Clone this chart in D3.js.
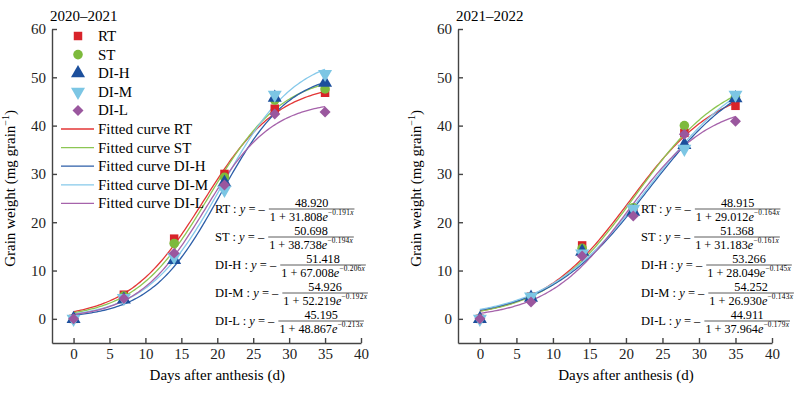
<!DOCTYPE html>
<html>
<head>
<meta charset="utf-8">
<script src="https://cdn.jsdelivr.net/npm/d3@7"></script>
<style>
  body { margin: 0; background: #fff; }
  svg { font-family: "Liberation Serif", "DejaVu Serif", serif; }
  .axis path, .axis line { stroke: #444; stroke-width: 1.4; }
  .axis text { font-size: 15px; fill: #222; font-family: "Liberation Serif", serif; }
</style>
</head>
<body>
<div id="chart"></div>
<script>
// sampling days and treatments
const days = [0, 7, 14, 21, 28, 35];
const treatments = ['RT', 'ST', 'DI-H', 'DI-M', 'DI-L'];
const xTicks = [0, 5, 10, 15, 20, 25, 30, 35, 40];
const yTicks = [0, 10, 20, 30, 40, 50, 60];

// observed grain weight, 2020-2021
const obs2021_RT = [0, 5.0, 16.6, 30.0, 43.5, 46.8];
const obs2021_ST = [0, 4.7, 15.6, 29.3, 45.3, 47.6];
const obs2021_DIH = [0, 4.0, 12.2, 28.2, 45.8, 48.9];
const obs2021_DIM = [0, 4.3, 12.8, 26.7, 46.4, 50.7];
const obs2021_DIL = [0, 4.2, 13.6, 27.7, 42.4, 42.8];

// observed grain weight, 2021-2022
const obs2122_RT = [0, 4.6, 15.2, 22.6, 38.5, 44.1];
const obs2122_ST = [0, 4.5, 14.6, 23.0, 40.0, 46.0];
const obs2122_DIH = [0, 4.4, 13.9, 22.2, 36.0, 45.7];
const obs2122_DIM = [0, 4.6, 13.5, 22.8, 35.2, 46.4];
const obs2122_DIL = [0, 3.5, 13.0, 21.3, 38.2, 40.9];

// logistic fit parameters y = a / (1 + b e^(-k x))
const fit2021_a = [48.920, 50.698, 51.418, 54.926, 45.195];
const fit2021_b = [31.808, 38.738, 67.008, 52.219, 48.867];
const fit2021_k = [0.191, 0.194, 0.206, 0.192, 0.213];
const fit2122_a = [48.915, 51.368, 53.266, 54.252, 44.911];
const fit2122_b = [29.012, 31.183, 28.049, 26.930, 37.964];
const fit2122_k = [0.164, 0.161, 0.145, 0.143, 0.179];

const markColors = ['#d8232a', '#7dba3c', '#1c4f9c', '#7cc6e4', '#9a579e'];
const lineColors = ['#e33636', '#8cc653', '#2c5ea8', '#86c9ea', '#a663ab'];
const symbols = [d3.symbolSquare, d3.symbolCircle, d3.symbolTriangle, d3.symbolTriangle, d3.symbolSquare];
const symbolSizes = [72, 72, 85, 85, 60];
const symbolRotate = [0, 0, 0, 180, 45];

const panels = [
  {
    title: '2020\u20132021', x0: 52, x1: 361,
    obs: [obs2021_RT, obs2021_ST, obs2021_DIH, obs2021_DIM, obs2021_DIL],
    a: fit2021_a, b: fit2021_b, k: fit2021_k,
    eqX: 215, legend: true
  },
  {
    title: '2021\u20132022', x0: 458, x1: 772,
    obs: [obs2122_RT, obs2122_ST, obs2122_DIH, obs2122_DIM, obs2122_DIL],
    a: fit2122_a, b: fit2122_b, k: fit2122_k,
    eqX: 641, legend: false
  }
];

const svg = d3.select('#chart').append('svg')
  .attr('width', 795)
  .attr('height', 393);

const y = d3.scaleLinear().domain([-5, 60]).range([343, 29]);

panels.forEach(function(p) {
  const x = d3.scaleLinear().domain([-3, 40]).range([p.x0, p.x1]);
  const g = svg.append('g');

  g.append('g')
    .attr('class', 'axis')
    .attr('transform', `translate(0, ${y(-5)})`)
    .call(d3.axisBottom(x).tickValues(xTicks).tickSize(-5).tickSizeOuter(0).tickPadding(5));

  g.append('g')
    .attr('class', 'axis')
    .attr('transform', `translate(${x(-3)}, 0)`)
    .call(d3.axisLeft(y).tickValues(yTicks).tickSize(-5).tickSizeOuter(0).tickPadding(6));

  g.append('text')
    .attr('x', x(-3) - 2)
    .attr('y', 21)
    .attr('font-size', 15)
    .text(p.title);

  g.append('text')
    .attr('x', (x(0) + x(40)) / 2)
    .attr('y', 380)
    .attr('text-anchor', 'middle')
    .attr('font-size', 15)
    .text('Days after anthesis (d)');

  const yl = g.append('text')
    .attr('transform', `translate(${x(-3) - 37}, ${y(27)}) rotate(-90)`)
    .attr('text-anchor', 'middle')
    .attr('font-size', 15);
  yl.append('tspan').text('Grain weight (mg grain');
  yl.append('tspan').attr('font-size', 10).attr('dy', -6).text('\u22121');
  yl.append('tspan').attr('dy', 6).text(')');

  // fitted curves
  const xs = d3.range(0, 35.01, 0.25);
  treatments.forEach(function(t, i) {
    const line = d3.line()
      .x(function(d) { return x(d) })
      .y(function(d) { return y(p.a[i] / (1 + p.b[i] * Math.exp(-p.k[i] * d))) });
    g.append('path')
      .datum(xs)
      .attr('fill', 'none')
      .attr('stroke', lineColors[i])
      .attr('stroke-width', 1.3)
      .attr('d', line);
  });

  // observed points
  treatments.forEach(function(t, i) {
    g.selectAll('.pt' + i)
      .data(p.obs[i])
      .enter()
      .append('path')
      .attr('d', d3.symbol().type(symbols[i]).size(symbolSizes[i]))
      .attr('fill', markColors[i])
      .attr('transform', function(d, j) {
        return `translate(${x(days[j])}, ${y(d)}) rotate(${symbolRotate[i]})`;
      });
  });

  // equations
  treatments.forEach(function(t, i) {
    const cy = 209 + i * 28;
    const lab = g.append('text')
      .attr('x', p.eqX)
      .attr('y', cy + 4)
      .attr('font-size', 12.5);
    lab.append('tspan').text(t + ' : ');
    lab.append('tspan').attr('font-style', 'italic').text('y');
    lab.append('tspan').text(' = \u2013');
    const fx = p.eqX + lab.node().getComputedTextLength() + 4;

    const den = g.append('text')
      .attr('x', fx + 1)
      .attr('y', cy + 12)
      .attr('font-size', 12.2);
    den.append('tspan').text('1 + ' + p.b[i].toFixed(3));
    den.append('tspan').attr('font-style', 'italic').text('e');
    den.append('tspan').attr('font-size', 7.3).attr('dy', -6).attr('letter-spacing', 0.3)
      .text('\u2212' + p.k[i].toFixed(3));
    den.append('tspan').attr('font-size', 7.3).attr('font-style', 'italic').text('x');
    const w = den.node().getComputedTextLength() + 2;

    g.append('line')
      .attr('x1', fx)
      .attr('x2', fx + w)
      .attr('y1', cy)
      .attr('y2', cy)
      .attr('stroke', '#333')
      .attr('stroke-width', 0.8);

    g.append('text')
      .attr('x', fx + w / 2)
      .attr('y', cy - 2.5)
      .attr('text-anchor', 'middle')
      .attr('font-size', 12.2)
      .text(p.a[i].toFixed(3));
  });

  if (p.legend) {
    treatments.forEach(function(t, i) {
      const ly = 36 + i * 18.6;
      g.append('path')
        .attr('d', d3.symbol().type(symbols[i]).size(symbolSizes[i]))
        .attr('fill', markColors[i])
        .attr('transform', `translate(78, ${ly}) rotate(${symbolRotate[i]})`);
      g.append('text')
        .attr('x', 98)
        .attr('y', ly + 5)
        .attr('font-size', 15)
        .text(t);
    });
    treatments.forEach(function(t, i) {
      const ly = 36 + (i + 5) * 18.6;
      g.append('line')
        .attr('x1', 61)
        .attr('x2', 94)
        .attr('y1', ly)
        .attr('y2', ly)
        .attr('stroke', lineColors[i])
        .attr('stroke-width', 1.3);
      g.append('text')
        .attr('x', 98)
        .attr('y', ly + 5)
        .attr('font-size', 15)
        .text('Fitted curve ' + t);
    });
  }
});
</script>
</body>
</html>
